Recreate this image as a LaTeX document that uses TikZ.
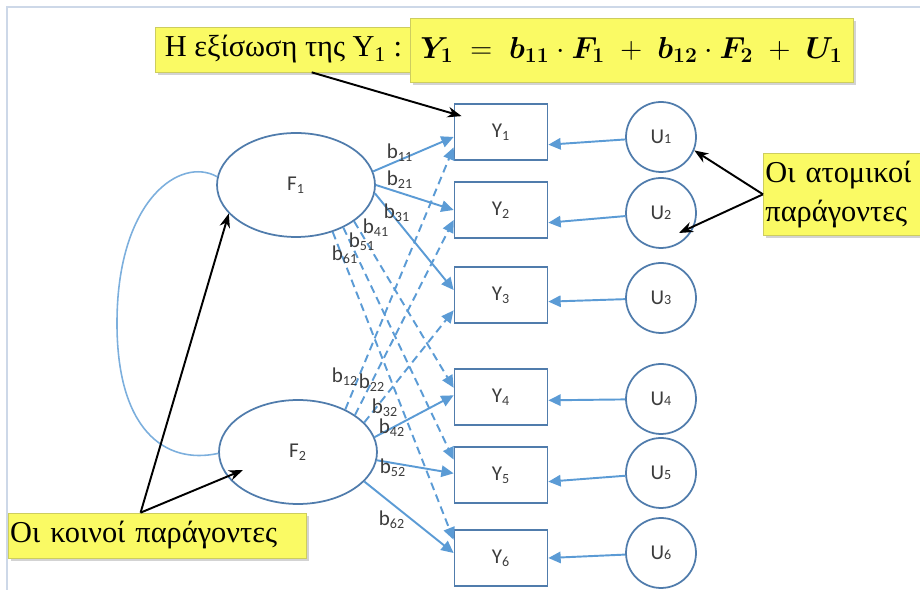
\documentclass[tikz,border=0pt]{standalone}
\usepackage{amsmath}
\usepackage{fontspec}
\setmainfont{Liberation Serif}
\newfontfamily\calibri{Carlito}
\usetikzlibrary{arrows.meta,shapes.geometric,shadows,calc}
\definecolor{grammi}{RGB}{91,155,213}
\definecolor{perigr}{RGB}{80,124,172}
\definecolor{kitrino}{RGB}{250,250,100}
\definecolor{kitrinoakri}{RGB}{205,205,95}
\definecolor{keimeno}{RGB}{60,60,60}
\definecolor{plaisio}{RGB}{205,216,232}
\newcommand{\syntel}[1]{b\textsubscript{#1}}
\newcommand{\typosY}{$\boldsymbol{Y_1} \;=\; \boldsymbol{b_{11}} \cdot \boldsymbol{F_1} \;+\;
  \boldsymbol{b_{12}} \cdot \boldsymbol{F_2} \;+\; \boldsymbol{U_1}$}

\begin{document}
\begin{tikzpicture}[x=0.02cm, y=-0.02cm, font=\calibri\fontsize{12}{14}\selectfont, text=keimeno,
  metavliti/.style={draw=perigr, line width=1pt, minimum width=1.86cm, minimum height=1.12cm, inner sep=0pt},
  sfalma/.style={draw=perigr, line width=1pt, circle, minimum size=1.4cm, inner sep=0pt},
  paragontas/.style={draw=perigr, line width=1pt, ellipse, minimum width=3.16cm, minimum height=2.08cm, inner sep=0pt},
  varos/.style={grammi, line width=1.1pt, -{Triangle[length=7pt, width=6.5pt]}},
  diakek/.style={varos, dash pattern=on 4.5pt off 2.8pt},
  sxolio/.style={fill=kitrino, draw=kitrinoakri, text=black, font=\rmfamily\LARGE,
    drop shadow={opacity=0.35, shadow xshift=1.5pt, shadow yshift=-1.5pt}},
  deiktis/.style={black, line width=1.1pt, -{Stealth[length=8pt, width=6pt]}}]
  \useasboundingbox (0,0) rectangle (920,590);
  \draw[plaisio, line width=0.6pt] (7,590) -- (7,7) -- (920,7);

  \node[paragontas] (F1) at (296,185) {F\textsubscript{1}};
  \node[paragontas] (F2) at (298,452) {F\textsubscript{2}};
  \foreach \i/\py/\uy in {1/132/137, 2/210/213, 3/295/298, 4/397/399, 5/475/473, 6/558/553}
    {\node[metavliti] (Y\i) at (501,\py) {Y\textsubscript{\i}};
     \node[sfalma] (U\i) at (661,\uy) {U{\fontsize{8}{9}\selectfont\i}};}

  \draw[grammi!80, line width=0.9pt] (F1.174) .. controls (180,156) and (118,200) .. (117,320)
    .. controls (116,430) and (165,465) .. (F2.181);

  \foreach \i/\a in {1/-15, 2/-15, 3/-8, 4/-4, 5/-8, 6/0} \draw[varos] (U\i) -- (Y\i.\a);
  \foreach \f/\j/\b in {10/1/186, 0/2/180, -6/3/174} \draw[varos] (F1.\f) -- (Y\j.\b);
  \foreach \f/\j/\b in {-32/4/169, -42/5/162, -52/6/159} \draw[diakek] (F1.\f) -- (Y\j.\b);
  \foreach \f/\j/\b in {11/4/178, -6/5/178, -24/6/174} \draw[varos] (F2.\f) -- (Y\j.\b);
  \foreach \f/\j/\b in {42/1/198, 33/2/192, 24/3/198} \draw[diakek] (F2.\f) -- (Y\j.\b);

  \foreach \t/\px/\py in {11/400/153, 21/400/180, 31/397/213, 41/376/228, 51/362/242, 61/345/255,
      12/345/377, 22/372/383, 32/385/408, 42/392/428, 52/393/468, 62/392/520}
    \node (b\t) at (\px,\py) {\syntel{\t}};

  \node[sxolio, minimum width=5.14cm, minimum height=0.9cm] (exisosi) at (283.5,49.5)
    {Η εξίσωση της Υ\textsubscript{1} :};
  \node[sxolio, minimum width=8.86cm, minimum height=1.28cm] (typos) at (631.5,50) {\typosY};
  \node[sxolio, anchor=north west, text width=4cm, align=left, inner xsep=1.2pt,
    minimum height=1.64cm] (atomikoi) at (763,153) {Οι ατομικοί\\παράγοντες};
  \node[sxolio, anchor=west, text width=5.9cm, align=left, inner xsep=1pt,
    minimum height=0.9cm] (koinoi) at (8,535.5) {Οι κοινοί παράγοντες};

  \coordinate (koryfi) at ($(koinoi.north)+(-17,0)$);
  \draw[deiktis] (exisosi.-39) -- ($(Y1.north west)+(8,13)$);
  \draw[deiktis] (atomikoi.west) -- (U1.-22);
  \draw[deiktis] (atomikoi.west) -- ($(U2.center)+(18,20)$);
  \draw[deiktis] (koryfi) -- (F1.203);
  \draw[deiktis] (koryfi) -- ($(F2.center)+(-55,18)$);
\end{tikzpicture}
\end{document}
